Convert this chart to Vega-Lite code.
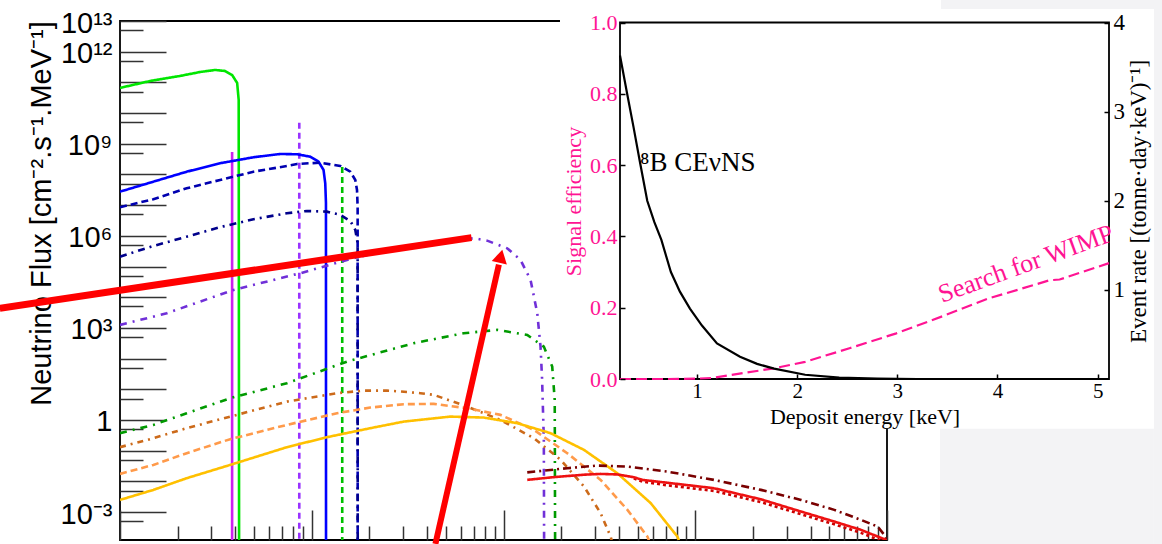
{
"$schema": "https://vega.github.io/schema/vega-lite/v6.json",
"width": 767,
"height": 519,
"autosize": "none",
"padding": {"left": 120, "top": 21, "right": 275, "bottom": 4},
"background": "#ffffff",
"config": {"view": {"stroke": "#000000", "strokeWidth": 1.8}, "axis": {"grid": false, "domain": false}},
"datasets": {
"flux": [
{"s":"pp","E":0.1,"F":6.6e10},{"s":"pp","E":0.1436,"F":1.11e11},{"s":"pp","E":0.2056,"F":1.62e11},{"s":"pp","E":0.2618,"F":2.18e11},{"s":"pp","E":0.3133,"F":2.54e11},{"s":"pp","E":0.3532,"F":2.35e11},{"s":"pp","E":0.3843,"F":1.74e11},{"s":"pp","E":0.4083,"F":9.6e10},{"s":"pp","E":0.4159,"F":2.7e10},{"s":"pp","E":0.418,"F":1e-5},
{"s":"be384","E":0.3843,"F":5.4e8},{"s":"be384","E":0.3843,"F":1e-5},
{"s":"be862","E":0.861,"F":4.8e9},{"s":"be862","E":0.861,"F":1e-5},
{"s":"pep","E":1.442,"F":1.75e8},{"s":"pep","E":1.442,"F":1e-5},
{"s":"n13","E":0.1,"F":2.75e7},{"s":"n13","E":0.1493,"F":5.82e7},{"s":"n13","E":0.2228,"F":1.23e8},{"s":"n13","E":0.3326,"F":2.32e8},{"s":"n13","E":0.4966,"F":3.63e8},{"s":"n13","E":0.6847,"F":4.65e8},{"s":"n13","E":0.837,"F":4.55e8},{"s":"n13","E":0.982,"F":3.8e8},{"s":"n13","E":1.085,"F":2.61e8},{"s":"n13","E":1.152,"F":1.4e8},{"s":"n13","E":1.176,"F":5.17e7},{"s":"n13","E":1.186,"F":1.18e7},{"s":"n13","E":1.187,"F":1e-5},
{"s":"o15","E":0.1,"F":8.55e6},{"s":"o15","E":0.1493,"F":1.56e7},{"s":"o15","E":0.2228,"F":3.55e7},{"s":"o15","E":0.3326,"F":6.62e7},{"s":"o15","E":0.4966,"F":1.23e8},{"s":"o15","E":0.742,"F":1.89e8},{"s":"o15","E":0.837,"F":2.2e8},{"s":"o15","E":1.108,"F":2.42e8},{"s":"o15","E":1.409,"F":1.89e8},{"s":"o15","E":1.589,"F":1.23e8},{"s":"o15","E":1.687,"F":6.62e7},{"s":"o15","E":1.722,"F":3.13e7},{"s":"o15","E":1.735,"F":8.94e6},{"s":"o15","E":1.736,"F":1e-5},
{"s":"f17","E":0.1,"F":2.1e5},{"s":"f17","E":0.1493,"F":4.69e5},{"s":"f17","E":0.2228,"F":9.42e5},{"s":"f17","E":0.3326,"F":1.91e6},{"s":"f17","E":0.4966,"F":3.47e6},{"s":"f17","E":0.742,"F":5.45e6},{"s":"f17","E":0.944,"F":6.47e6},{"s":"f17","E":1.2,"F":6.14e6},{"s":"f17","E":1.409,"F":4.8e6},{"s":"f17","E":1.589,"F":3.05e6},{"s":"f17","E":1.687,"F":1.56e6},{"s":"f17","E":1.735,"F":5.74e5},{"s":"f17","E":1.737,"F":1e-5},
{"s":"b8","E":0.1,"F":1250},{"s":"b8","E":0.1754,"F":3010},{"s":"b8","E":0.3905,"F":17300},{"s":"b8","E":0.871,"F":60500},{"s":"b8","E":1.527,"F":164000},{"s":"b8","E":2.279,"F":306000},{"s":"b8","E":3.4,"F":506000},{"s":"b8","E":5.08,"F":698000},{"s":"b8","E":7.0,"F":836000},{"s":"b8","E":8.22,"F":698000},{"s":"b8","E":10.45,"F":394000},{"s":"b8","E":12.27,"F":164000},{"s":"b8","E":13.84,"F":36600},{"s":"b8","E":15.0,"F":3010},{"s":"b8","E":15.6,"F":246},{"s":"b8","E":15.9,"F":20.2},{"s":"b8","E":16.23,"F":0.225},{"s":"b8","E":16.3,"F":1e-5},
{"s":"hep","E":0.1,"F":0.372},{"s":"hep","E":0.1493,"F":0.692},{"s":"hep","E":0.2228,"F":1.66},{"s":"hep","E":0.3754,"F":5.13},{"s":"hep","E":0.742,"F":15.8},{"s":"hep","E":1.527,"F":79.8},{"s":"hep","E":3.4,"F":318},{"s":"hep","E":6.2,"F":671},{"s":"hep","E":9.27,"F":861},{"s":"hep","E":13.3,"F":591},{"s":"hep","E":16.23,"F":246},{"s":"hep","E":17.95,"F":54.9},{"s":"hep","E":18.5,"F":4.5},{"s":"hep","E":18.6,"F":1e-5},
{"s":"dsnb8","E":0.1,"F":0.13},{"s":"dsnb8","E":0.1493,"F":0.255},{"s":"dsnb8","E":0.2228,"F":0.541},{"s":"dsnb8","E":0.3754,"F":1.29},{"s":"dsnb8","E":0.742,"F":3.97},{"s":"dsnb8","E":1.354,"F":7.46},{"s":"dsnb8","E":1.864,"F":9.08},{"s":"dsnb8","E":2.47,"F":9.08},{"s":"dsnb8","E":2.9,"F":8.5},{"s":"dsnb8","E":3.69,"F":7.46},{"s":"dsnb8","E":4.33,"F":6.6},{"s":"dsnb8","E":6.46,"F":2.73},{"s":"dsnb8","E":9.64,"F":1.007},{"s":"dsnb8","E":14.4,"F":0.255},{"s":"dsnb8","E":19.9,"F":0.05},{"s":"dsnb8","E":26.3,"F":0.00678},{"s":"dsnb8","E":32.1,"F":0.00092},{"s":"dsnb8","E":36.2,"F":0.000159},{"s":"dsnb8","E":38.5,"F":0.00004},
{"s":"dsnb5","E":0.1,"F":0.01754},{"s":"dsnb5","E":0.1493,"F":0.0344},{"s":"dsnb5","E":0.2228,"F":0.083},{"s":"dsnb5","E":0.3754,"F":0.237},{"s":"dsnb5","E":0.742,"F":0.692},{"s":"dsnb5","E":1.354,"F":1.66},{"s":"dsnb5","E":2.02,"F":2.54},{"s":"dsnb5","E":3.02,"F":3.27},{"s":"dsnb5","E":4.33,"F":3.35},{"s":"dsnb5","E":6.46,"F":2.42},{"s":"dsnb5","E":9.64,"F":1.47},{"s":"dsnb5","E":14.4,"F":0.476},{"s":"dsnb5","E":21.5,"F":0.083},{"s":"dsnb5","E":32.1,"F":0.0112},{"s":"dsnb5","E":44.3,"F":0.00118},{"s":"dsnb5","E":56.3,"F":0.000159},{"s":"dsnb5","E":60,"F":0.000059},
{"s":"dsnb3","E":0.1,"F":0.00249},{"s":"dsnb3","E":0.1493,"F":0.00528},{"s":"dsnb3","E":0.2228,"F":0.0127},{"s":"dsnb3","E":0.3754,"F":0.0344},{"s":"dsnb3","E":0.742,"F":0.13},{"s":"dsnb3","E":1.2,"F":0.275},{"s":"dsnb3","E":2.02,"F":0.541},{"s":"dsnb3","E":3.02,"F":0.887},{"s":"dsnb3","E":5.28,"F":1.29},{"s":"dsnb3","E":7.88,"F":1.2},{"s":"dsnb3","E":11.8,"F":0.787},{"s":"dsnb3","E":17.6,"F":0.372},{"s":"dsnb3","E":26.3,"F":0.106},{"s":"dsnb3","E":39.2,"F":0.0185},{"s":"dsnb3","E":58.6,"F":0.00195},{"s":"dsnb3","E":80.7,"F":0.000159},{"s":"dsnb3","E":86,"F":0.000059},
{"s":"atm_dot","E":47.8,"F":0.0125},{"s":"atm_dot","E":53,"F":0.0098},{"s":"atm_dot","E":71.6,"F":0.0074},{"s":"atm_dot","E":125,"F":0.0049},{"s":"atm_dot","E":220,"F":0.0021},{"s":"atm_dot","E":356,"F":0.00085},{"s":"atm_dot","E":531,"F":0.0004},{"s":"atm_dot","E":731,"F":0.00021},{"s":"atm_dot","E":968,"F":0.000105},{"s":"atm_dot","E":1000,"F":0.0001},
{"s":"atm_e","E":13.3,"F":0.0196},{"s":"atm_e","E":21.5,"F":0.0269},{"s":"atm_e","E":30.9,"F":0.0327},{"s":"atm_e","E":44.3,"F":0.0303},{"s":"atm_e","E":71.6,"F":0.0208},{"s":"atm_e","E":125,"F":0.0112},{"s":"atm_e","E":220,"F":0.00528},{"s":"atm_e","E":356,"F":0.00249},{"s":"atm_e","E":531,"F":0.00118},{"s":"atm_e","E":731,"F":0.000557},{"s":"atm_e","E":894,"F":0.000337},{"s":"atm_e","E":968,"F":0.000181},{"s":"atm_e","E":1000,"F":0.00012},
{"s":"atm_mu","E":13.3,"F":0.0112},{"s":"atm_mu","E":18.2,"F":0.0137},{"s":"atm_mu","E":26.3,"F":0.0165},{"s":"atm_mu","E":32.1,"F":0.0175},{"s":"atm_mu","E":39.2,"F":0.0168},{"s":"atm_mu","E":47.8,"F":0.0137},{"s":"atm_mu","E":53,"F":0.0112},{"s":"atm_mu","E":71.6,"F":0.009},{"s":"atm_mu","E":125,"F":0.006},{"s":"atm_mu","E":220,"F":0.0026},{"s":"atm_mu","E":356,"F":0.00104},{"s":"atm_mu","E":531,"F":0.000491},{"s":"atm_mu","E":731,"F":0.000263},{"s":"atm_mu","E":968,"F":0.000131},{"s":"atm_mu","E":1000,"F":0.000115}
],
"redline": [{"E":0.02362,"F":4380},{"E":6.81,"F":873000}],
"arrow": [{"E":4.415,"F":0.000092},{"E":9.46,"F":116000}],
"head": [{"E":9.68,"F":217000}],
"eff": [{"keV":0.232,"eff":0},{"keV":0.7,"eff":0},{"keV":1.0,"eff":0.001},{"keV":1.16,"eff":0.003},{"keV":1.47,"eff":0.017},{"keV":1.77,"eff":0.03},{"keV":2.08,"eff":0.048},{"keV":2.53,"eff":0.087},{"keV":2.99,"eff":0.128},{"keV":3.45,"eff":0.176},{"keV":3.91,"eff":0.226},{"keV":4.2,"eff":0.25},{"keV":4.52,"eff":0.277},{"keV":4.62,"eff":0.279},{"keV":5.113,"eff":0.325}],
"rate": [{"keV":0.232,"rate":3.63},{"keV":0.3,"rate":3.22},{"keV":0.368,"rate":2.82},{"keV":0.43,"rate":2.44},{"keV":0.504,"rate":2.0},{"keV":0.575,"rate":1.76},{"keV":0.645,"rate":1.56},{"keV":0.74,"rate":1.2},{"keV":0.83,"rate":0.98},{"keV":0.93,"rate":0.79},{"keV":1.05,"rate":0.6},{"keV":1.2,"rate":0.4},{"keV":1.43,"rate":0.25},{"keV":1.6,"rate":0.17},{"keV":1.77,"rate":0.116},{"keV":2.08,"rate":0.048},{"keV":2.42,"rate":0.016},{"keV":2.8,"rate":0.004},{"keV":3.2,"rate":0},{"keV":5.113,"rate":0}]
},
"layer": [
{
"layer": [
{
"data": {"name": "flux"},
"mark": {"type": "line", "clip": true, "strokeWidth": 2.6},
"encoding": {
"x": {"field": "E", "type": "quantitative", "scale": {"type": "log", "domain": [0.1, 1000], "nice": false},
"axis": {"orient": "bottom", "values": [0.1, 1, 10, 100, 1000], "labels": false, "ticks": true, "tickSize": -30, "tickColor": "#333333", "tickWidth": 1.5, "domain": false, "title": null, "grid": false, "zindex": 0}},
"y": {"field": "F", "type": "quantitative", "scale": {"type": "log", "domain": [0.000123, 1e13], "nice": false},
"axis": {"orient": "left", "values": [0.001, 1, 1000, 1000000, 1000000000, 1000000000000, 10000000000000],
"labelExpr": "datum.value < 0.01 ? '10⁻³' : datum.value < 10 ? '1' : datum.value < 10000 ? '10³' : datum.value < 10000000 ? '10⁶' : datum.value < 10000000000 ? '10⁹' : datum.value < 5000000000000 ? '10¹²' : '10¹³'",
"ticks": false, "domain": false, "labelFont": "Liberation Sans", "labelFontSize": 29, "labelColor": "#000000", "labelPadding": 8, "labelOffset": 2, "labelFlush": false, "labelOverlap": false, "labelBound": false,
"title": "Neutrino Flux [cm⁻².s⁻¹.MeV⁻¹]", "titleFont": "Liberation Sans", "titleFontSize": 29, "titleFontWeight": "normal", "titleColor": "#000000", "titleAngle": 270, "titleX": -79, "titleY": 192, "titleAlign": "center", "titleBaseline": "middle", "grid": false, "zindex": 0}},
"color": {"field": "s", "type": "nominal", "legend": null, "scale": {"domain": ["pp","be384","be862","pep","n13","o15","f17","b8","hep","dsnb8","dsnb5","dsnb3","atm_dot","atm_e","atm_mu"], "range": ["#00e600","#cc22ee","#9933ff","#00c000","#0000ff","#0000b0","#00008b","#7030d8","#009a00","#cc6a1a","#ff9a4a","#ffc000","#cc0000","#7a0000","#ee1111"]}},
"strokeDash": {"field": "s", "type": "nominal", "legend": null, "scale": {"domain": ["pp","be384","be862","pep","n13","o15","f17","b8","hep","dsnb8","dsnb5","dsnb3","atm_dot","atm_e","atm_mu"], "range": [[1,0],[1,0],[6,4],[6,4],[1,0],[7,4],[7,5,2,5],[7,6,2,6],[7,6,2,6],[6,5,2,5],[7,4],[1,0],[3,3],[8,4,2,4],[1,0]]}}
}
},
{
"data": {"name": "redline"},
"mark": {"type": "line", "color": "#ff0000", "strokeWidth": 7, "clip": false, "strokeCap": "butt"},
"encoding": {
"x": {"field": "E", "type": "quantitative", "scale": {"type": "log", "domain": [0.1, 1000], "nice": false},
"axis": {"orient": "bottom", "values": [0.2,0.3,0.4,0.5,0.6,0.7,0.8,0.9,2,3,4,5,6,7,8,9,20,30,40,50,60,70,80,90,200,300,400,500,600,700,800,900], "labels": false, "ticks": true, "tickSize": -14, "tickColor": "#333333", "tickWidth": 1.5, "domain": false, "title": null, "grid": false, "zindex": 0}},
"y": {"field": "F", "type": "quantitative", "scale": {"type": "log", "domain": [0.000123, 1e13], "nice": false},
"axis": {"orient": "left", "values": [0.001,0.01,0.1,1,10,100,1000,10000,100000,1000000,10000000,100000000,1000000000,10000000000,100000000000,1000000000000,10000000000000], "labels": false, "ticks": true, "tickSize": -46, "tickColor": "#333333", "tickWidth": 1.5, "domain": false, "title": null, "grid": false, "zindex": 0}}
}
},
{
"data": {"name": "arrow"},
"mark": {"type": "line", "color": "#ff0000", "strokeWidth": 6, "clip": false, "strokeCap": "butt"},
"encoding": {
"x": {"field": "E", "type": "quantitative", "scale": {"type": "log", "domain": [0.1, 1000], "nice": false}, "axis": null},
"y": {"field": "F", "type": "quantitative", "scale": {"type": "log", "domain": [0.000123, 1e13], "nice": false},
"axis": {"orient": "left", "values": [0.0005,0.005,0.05,0.5,5,50,500,5000,50000,500000,5000000,50000000,500000000,5000000000,50000000000,500000000000,5000000000000], "labels": false, "ticks": true, "tickSize": -23, "tickColor": "#333333", "tickWidth": 1.5, "domain": false, "title": null, "grid": false, "zindex": 0}}
}
},
{
"data": {"name": "head"},
"mark": {"type": "point", "shape": "triangle-up", "filled": true, "color": "#ff0000", "opacity": 1, "size": 240, "angle": 12.8, "clip": false},
"encoding": {
"x": {"field": "E", "type": "quantitative", "scale": {"type": "log", "domain": [0.1, 1000], "nice": false}, "axis": null},
"y": {"field": "F", "type": "quantitative", "scale": {"type": "log", "domain": [0.000123, 1e13], "nice": false}, "axis": null}
}
}
],
"resolve": {"axis": {"x": "independent", "y": "independent"}}
},
{
"layer": [
{
"data": {"values": [{}]},
"mark": {"type": "rect", "color": "#f3f3f5", "clip": false},
"encoding": {
"x": {"datum": 3.436, "type": "quantitative", "scale": {"type": "linear", "domain": [0.232, 5.113], "range": [500, 989], "nice": false, "zero": false}, "axis": null},
"x2": {"datum": 6.5},
"y": {"datum": 1.038, "type": "quantitative", "scale": {"type": "linear", "domain": [0, 1], "range": [358, 1.5], "nice": false, "zero": false}, "axis": null},
"y2": {"datum": 1.3}
}
},
{
"data": {"values": [{}]},
"mark": {"type": "rect", "color": "#f3f3f5", "clip": false},
"encoding": {
"x": {"datum": 5.561, "type": "quantitative", "scale": {"type": "linear", "domain": [0.232, 5.113], "range": [500, 989], "nice": false, "zero": false}, "axis": null},
"x2": {"datum": 6.5},
"y": {"datum": -0.6, "type": "quantitative", "scale": {"type": "linear", "domain": [0, 1], "range": [358, 1.5], "nice": false, "zero": false}, "axis": null},
"y2": {"datum": 1.3}
}
},
{
"data": {"values": [{}]},
"mark": {"type": "rect", "color": "#f3f3f5", "clip": false},
"encoding": {
"x": {"datum": 3.426, "type": "quantitative", "scale": {"type": "linear", "domain": [0.232, 5.113], "range": [500, 989], "nice": false, "zero": false}, "axis": null},
"x2": {"datum": 5.561},
"y": {"datum": -0.6, "type": "quantitative", "scale": {"type": "linear", "domain": [0, 1], "range": [358, 1.5], "nice": false, "zero": false}, "axis": null},
"y2": {"datum": -0.139}
}
},
{
"data": {"values": [{}]},
"mark": {"type": "rect", "color": "#ffffff", "clip": false},
"encoding": {
"x": {"datum": -0.367, "type": "quantitative", "scale": {"type": "linear", "domain": [0.232, 5.113], "range": [500, 989], "nice": false, "zero": false}, "axis": null},
"x2": {"datum": 5.561},
"y": {"datum": -0.139, "type": "quantitative", "scale": {"type": "linear", "domain": [0, 1], "range": [358, 1.5], "nice": false, "zero": false}, "axis": null},
"y2": {"datum": 1.038}
}
},
{
"data": {"values": [{}]},
"mark": {"type": "rect", "fill": "#ffffff", "stroke": "#000000", "strokeWidth": 1.8, "clip": false},
"encoding": {
"x": {"datum": 0.232, "type": "quantitative", "scale": {"type": "linear", "domain": [0.232, 5.113], "range": [500, 989], "nice": false, "zero": false}, "axis": null},
"x2": {"datum": 5.113},
"y": {"datum": 0, "type": "quantitative", "scale": {"type": "linear", "domain": [0, 1], "range": [358, 1.5], "nice": false, "zero": false}, "axis": null},
"y2": {"datum": 1}
}
},
{
"data": {"name": "eff"},
"mark": {"type": "line", "color": "#ff1493", "strokeWidth": 2.2, "strokeDash": [11, 5], "clip": false},
"encoding": {
"x": {"field": "keV", "type": "quantitative", "scale": {"type": "linear", "domain": [0.232, 5.113], "range": [500, 989], "nice": false, "zero": false},
"axis": {"orient": "bottom", "offset": -161, "values": [1, 2, 3, 4, 5], "format": "d", "domain": false, "ticks": true, "tickSize": -5, "tickColor": "#000000", "tickWidth": 1.5, "labelFont": "Liberation Serif", "labelFontSize": 21, "labelColor": "#000000", "labelPadding": 6, "labelFlush": false, "labelOverlap": false,
"title": "Deposit energy [keV]", "titleFont": "Liberation Serif", "titleFontSize": 22, "titleFontWeight": "normal", "titleColor": "#000000", "titleX": 744.5, "titleY": 37, "titleAlign": "center", "titleBaseline": "middle", "grid": false, "zindex": 2}},
"y": {"field": "eff", "type": "quantitative", "scale": {"type": "linear", "domain": [0, 1], "range": [358, 1.5], "nice": false, "zero": false},
"axis": {"orient": "left", "offset": -500, "values": [0, 0.2, 0.4, 0.6, 0.8, 1], "format": ".1f", "domain": false, "ticks": true, "tickSize": -5, "tickColor": "#000000", "tickWidth": 1.5, "labelFont": "Liberation Serif", "labelFontSize": 22, "labelColor": "#ff1493", "labelPadding": 8, "labelFlush": false, "labelOverlap": false,
"title": "Signal efficiency", "titleFont": "Liberation Serif", "titleFontSize": 22, "titleFontWeight": "normal", "titleColor": "#ff1493", "titleAngle": 270, "titleX": -47, "titleY": 180, "titleAlign": "center", "titleBaseline": "middle", "grid": false, "zindex": 2}}
}
},
{
"data": {"values": [{"t": "⁸B CEνNS", "keV": 0.432, "eff": 0.606}]},
"mark": {"type": "text", "align": "left", "baseline": "middle", "font": "Liberation Serif", "fontSize": 27, "color": "#000000"},
"encoding": {
"x": {"field": "keV", "type": "quantitative", "scale": {"type": "linear", "domain": [0.232, 5.113], "range": [500, 989], "nice": false, "zero": false}, "axis": null},
"y": {"field": "eff", "type": "quantitative", "scale": {"type": "linear", "domain": [0, 1], "range": [358, 1.5], "nice": false, "zero": false}, "axis": null},
"text": {"field": "t"}
}
},
{
"data": {"values": [{"t": "Search for WIMP", "keV": 4.284, "eff": 0.3226}]},
"mark": {"type": "text", "align": "center", "baseline": "middle", "font": "Liberation Serif", "fontSize": 26, "color": "#ff1493", "angle": 340},
"encoding": {
"x": {"field": "keV", "type": "quantitative", "scale": {"type": "linear", "domain": [0.232, 5.113], "range": [500, 989], "nice": false, "zero": false}, "axis": null},
"y": {"field": "eff", "type": "quantitative", "scale": {"type": "linear", "domain": [0, 1], "range": [358, 1.5], "nice": false, "zero": false}, "axis": null},
"text": {"field": "t"}
}
},
{
"data": {"name": "rate"},
"mark": {"type": "line", "color": "#000000", "strokeWidth": 2.2, "clip": false},
"encoding": {
"x": {"field": "keV", "type": "quantitative", "scale": {"type": "linear", "domain": [0.232, 5.113], "range": [500, 989], "nice": false, "zero": false}, "axis": null},
"y": {"field": "rate", "type": "quantitative", "scale": {"type": "linear", "domain": [0, 4], "range": [358, 1.5], "nice": false, "zero": false},
"axis": {"orient": "right", "offset": 222, "values": [1, 2, 3, 4], "format": "d", "domain": false, "ticks": true, "tickSize": -5, "tickColor": "#000000", "tickWidth": 1.5, "labelFont": "Liberation Serif", "labelFontSize": 23, "labelColor": "#000000", "labelPadding": 9, "labelFlush": false, "labelOverlap": false,
"title": "Event rate [(tonne·day·keV)⁻¹]", "titleFont": "Liberation Serif", "titleFontSize": 23, "titleFontWeight": "normal", "titleColor": "#000000", "titleAngle": 270, "titleX": 29, "titleY": 180, "titleAlign": "center", "titleBaseline": "middle", "grid": false, "zindex": 2}}
}
}
],
"resolve": {"scale": {"y": "independent"}, "axis": {"x": "independent", "y": "independent"}}
}
],
"resolve": {"scale": {"x": "independent", "y": "independent"}}
}
